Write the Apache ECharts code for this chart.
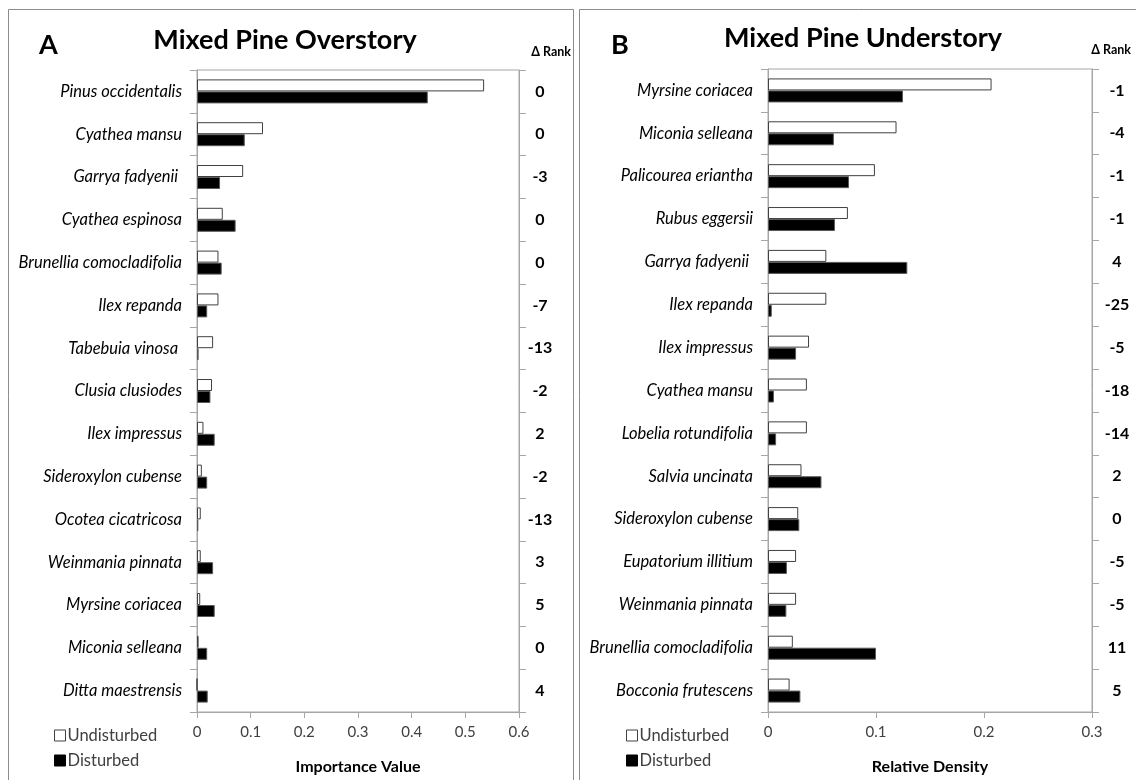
<!DOCTYPE html>
<html>
<head>
<meta charset="utf-8">
<title>Mixed Pine Overstory / Understory</title>
<script src="https://cdn.jsdelivr.net/npm/echarts@6/dist/echarts.min.js"></script>
<style>
  html, body { margin: 0; padding: 0; background: #fff; }
  #chart { width: 1136px; height: 780px; }
</style>
</head>
<body>
<div id="chart"></div>
<script>
// Panel A: overstory importance values
const overSpecies = [
  'Pinus occidentalis', 'Cyathea mansu', 'Garrya fadyenii ', 'Cyathea espinosa',
  'Brunellia comocladifolia', 'Ilex repanda', 'Tabebuia vinosa ', 'Clusia clusiodes',
  'Ilex impressus', 'Sideroxylon cubense', 'Ocotea cicatricosa', 'Weinmania pinnata',
  'Myrsine coriacea', 'Miconia selleana', 'Ditta maestrensis'
];
const overUndisturbed = [0.535, 0.123, 0.086, 0.048, 0.040, 0.040, 0.030, 0.028, 0.012, 0.009, 0.007, 0.007, 0.006, 0.003, 0.0];
const overDisturbed   = [0.430, 0.089, 0.043, 0.072, 0.046, 0.019, 0.003, 0.025, 0.033, 0.019, 0.0025, 0.030, 0.033, 0.019, 0.020];
const overRank = ['0', '0', '-3', '0', '0', '-7', '-13', '-2', '2', '-2', '-13', '3', '5', '0', '4'];
const overTicks = { min: 0, max: 0.6, interval: 0.1 };

// Panel B: understory relative densities
const underSpecies = [
  'Myrsine coriacea', 'Miconia selleana', 'Palicourea eriantha', 'Rubus eggersii',
  'Garrya fadyenii ', 'Ilex repanda', 'Ilex impressus', 'Cyathea mansu',
  'Lobelia rotundifolia', 'Salvia uncinata', 'Sideroxylon cubense', 'Eupatorium illitium',
  'Weinmania pinnata', 'Brunellia comocladifolia', 'Bocconia frutescens'
];
const underUndisturbed = [0.207, 0.119, 0.099, 0.074, 0.054, 0.054, 0.038, 0.036, 0.036, 0.031, 0.028, 0.026, 0.026, 0.023, 0.020];
const underDisturbed   = [0.125, 0.061, 0.075, 0.062, 0.129, 0.0035, 0.026, 0.0055, 0.0075, 0.0495, 0.029, 0.0175, 0.017, 0.100, 0.030];
const underRank = ['-1', '-4', '-1', '-1', '4', '-25', '-5', '-18', '-14', '2', '0', '-5', '-5', '11', '5'];
const underTicks = { min: 0, max: 0.3, interval: 0.1 };

const FONT = 'Lato, "Open Sans", sans-serif';
const AXIS_GRAY = '#a6a6a6';

const chart = echarts.init(document.getElementById('chart'), null, { renderer: 'canvas' });

function valueAxis(gridIndex, ticks, name) {
  return {
    type: 'value', gridIndex,
    min: ticks.min, max: ticks.max, interval: ticks.interval,
    axisLine: { show: true, lineStyle: { color: AXIS_GRAY } },
    axisTick: { show: true, length: 6, lineStyle: { color: AXIS_GRAY } },
    splitLine: { show: false },
    axisLabel: { color: '#404040', fontFamily: FONT, fontSize: 15, margin: 13 },
    name, nameLocation: 'middle', nameGap: 47,
    nameTextStyle: { color: '#000', fontFamily: FONT, fontSize: 16, fontWeight: 'bold' }
  };
}

function speciesAxis(gridIndex, data) {
  return {
    type: 'category', gridIndex, data, inverse: true, position: 'left',
    axisLine: { show: true, lineStyle: { color: AXIS_GRAY } },
    axisTick: { show: true, length: 7, lineStyle: { color: AXIS_GRAY } },
    axisLabel: { color: '#000', fontFamily: FONT, fontSize: 16.5, fontStyle: 'italic', margin: 15 }
  };
}

function rankAxis(gridIndex, data, offset) {
  return {
    type: 'category', gridIndex, data, inverse: true, position: 'right',
    axisLine: { show: true, lineStyle: { color: AXIS_GRAY } },
    axisTick: { show: true, length: 7, lineStyle: { color: AXIS_GRAY } },
    axisLabel: { color: '#000', fontFamily: FONT, fontSize: 16, fontWeight: 'bold', margin: offset, align: 'center' }
  };
}

function barPair(xi, yi, undisturbed, disturbed) {
  return [
    {
      name: 'Undisturbed', type: 'bar', xAxisIndex: xi, yAxisIndex: yi,
      data: undisturbed, barWidth: 12, barGap: '0%',
      itemStyle: { color: '#ffffff', borderColor: '#404040', borderWidth: 1 },
      emphasis: { disabled: true }
    },
    {
      name: 'Disturbed', type: 'bar', xAxisIndex: xi, yAxisIndex: yi,
      data: disturbed, barWidth: 12, barGap: '0%',
      itemStyle: { color: '#000000', borderColor: '#595959', borderWidth: 1 },
      emphasis: { disabled: true }
    }
  ];
}

function legendAt(left) {
  return {
    orient: 'vertical', left, top: 722, itemGap: 8,
    itemWidth: 11, itemHeight: 11, icon: 'rect',
    textStyle: { color: '#404040', fontFamily: FONT, fontSize: 16.5, padding: [0, 0, 0, -3] },
    data: [
      { name: 'Undisturbed', itemStyle: { color: '#fff', borderColor: '#404040', borderWidth: 1 } },
      { name: 'Disturbed', itemStyle: { color: '#000', borderColor: '#000', borderWidth: 1 } }
    ],
    selectedMode: false
  };
}

function textTitle(text, left, top, size, align) {
  return {
    text, left, top, textAlign: align || 'left',
    textStyle: { color: '#000', fontFamily: FONT, fontSize: size, fontWeight: 'bold' }
  };
}

chart.setOption({
  animation: false,
  backgroundColor: '#ffffff',
  title: [
    textTitle('A', 34, 27, 27),
    textTitle('Mixed Pine Overstory', 280, 22, 27, 'center'),
    textTitle('Δ Rank', 566, 40, 12.5, 'right'),
    textTitle('B', 606, 27, 27),
    textTitle('Mixed Pine Understory', 858, 20, 27, 'center'),
    textTitle('Δ Rank', 1126, 38, 12.5, 'right')
  ],
  legend: [legendAt(49), legendAt(621)],
  grid: [
    { left: 197, top: 70, width: 322, height: 645, show: true, borderColor: AXIS_GRAY, borderWidth: 1, backgroundColor: 'transparent' },
    { left: 768, top: 69, width: 324, height: 645, show: true, borderColor: AXIS_GRAY, borderWidth: 1, backgroundColor: 'transparent' }
  ],
  xAxis: [
    valueAxis(0, overTicks, 'Importance Value'),
    valueAxis(1, underTicks, 'Relative Density')
  ],
  yAxis: [
    speciesAxis(0, overSpecies),
    rankAxis(0, overRank, 21),
    speciesAxis(1, underSpecies),
    rankAxis(1, underRank, 25)
  ],
  series: [
    ...barPair(0, 0, overUndisturbed, overDisturbed),
    ...barPair(1, 2, underUndisturbed, underDisturbed)
  ],
  graphic: [
    // panel frames
    { type: 'rect', shape: { x: 8.5, y: 9.5, width: 565, height: 800 }, style: { fill: 'none', stroke: '#8c8c8c', lineWidth: 1 }, silent: true },
    { type: 'rect', shape: { x: 579.5, y: 9.5, width: 600, height: 800 }, style: { fill: 'none', stroke: '#8c8c8c', lineWidth: 1 }, silent: true }
  ]
});
</script>
</body>
</html>
